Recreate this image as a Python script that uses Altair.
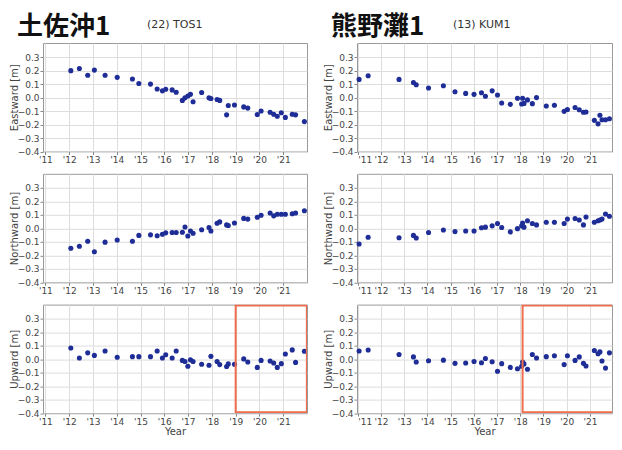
import altair as alt
import pandas as pd

# ---------------- data ----------------
tos_year = [2012.07, 2012.43, 2012.78, 2013.06, 2013.51, 2014.02, 2014.66, 2014.93, 2015.42, 2015.70,
            2015.92, 2016.06, 2016.33, 2016.50, 2016.76, 2016.87, 2016.99, 2017.10, 2017.21, 2017.57,
            2017.88, 2017.96, 2018.22, 2018.33, 2018.62, 2018.69, 2018.95, 2019.34, 2019.51, 2019.91,
            2020.07, 2020.45, 2020.60, 2020.75, 2020.92, 2021.09, 2021.38, 2021.52, 2021.89]
tos_east = [0.20, 0.216, 0.166, 0.204, 0.166, 0.15, 0.138, 0.105, 0.10, 0.064,
            0.05, 0.062, 0.057, 0.04, -0.021, -0.002, 0.012, 0.024, -0.031, 0.038,
            -0.002, -0.007, -0.014, -0.021, -0.128, -0.059, -0.055, -0.069, -0.078, -0.126,
            -0.10, -0.109, -0.124, -0.138, -0.112, -0.147, -0.124, -0.128, -0.178]
tos_north = [-0.147, -0.133, -0.095, -0.173, -0.102, -0.086, -0.095, -0.052, -0.048, -0.055,
             -0.043, -0.033, -0.031, -0.031, -0.029, 0.01, -0.057, -0.019, -0.036, -0.01,
             0.007, -0.019, 0.038, 0.048, 0.026, 0.021, 0.04, 0.074, 0.069, 0.083,
             0.097, 0.114, 0.093, 0.105, 0.105, 0.105, 0.109, 0.114, 0.131]
tos_up = [0.083, 0.009, 0.047, 0.028, 0.061, 0.014, 0.019, 0.019, 0.019, 0.061,
          0.009, 0.033, 0.009, 0.061, -0.009, -0.017, -0.052, -0.005, -0.017, -0.038,
          -0.045, 0.021, -0.017, -0.04, -0.054, -0.035, -0.038, 0.002, -0.021, -0.061,
          -0.009, -0.014, -0.028, -0.061, -0.033, 0.038, 0.069, -0.024, 0.059]

kum_year = [2011.06, 2011.45, 2012.78, 2013.40, 2013.52, 2014.05, 2014.69, 2015.19, 2015.65, 2016.01,
            2016.33, 2016.50, 2016.79, 2017.02, 2017.20, 2017.57, 2017.88, 2018.06, 2018.10, 2018.16,
            2018.31, 2018.52, 2018.70, 2019.12, 2019.47, 2019.89, 2020.03, 2020.36, 2020.54, 2020.72,
            2020.83, 2021.19, 2021.35, 2021.43, 2021.52, 2021.67, 2021.84]
kum_east = [0.135, 0.162, 0.135, 0.112, 0.095, 0.071, 0.088, 0.043, 0.031, 0.024,
            0.036, 0.01, 0.05, 0.019, -0.04, -0.05, -0.005, -0.048, -0.005, -0.043,
            -0.017, -0.045, 0.0, -0.062, -0.057, -0.102, -0.088, -0.074, -0.09, -0.109,
            -0.107, -0.169, -0.195, -0.131, -0.164, -0.164, -0.157]
kum_north = [-0.116, -0.066, -0.069, -0.052, -0.071, -0.031, -0.012, -0.024, -0.019, -0.019,
             0.005, 0.009, 0.019, 0.036, 0.007, -0.026, -0.002, 0.019, 0.04, 0.009,
             0.057, 0.036, 0.026, 0.045, 0.045, 0.036, 0.069, 0.073, 0.062, 0.026,
             0.085, 0.045, 0.057, 0.062, 0.069, 0.107, 0.09]
kum_up = [0.061, 0.068, 0.035, 0.017, -0.021, -0.012, -0.007, -0.031, -0.028, -0.017,
          -0.026, 0.005, -0.019, -0.09, -0.033, -0.061, -0.071, -0.052, -0.021, -0.035,
          -0.075, 0.035, 0.009, 0.019, 0.026, -0.04, 0.026, -0.009, 0.017, -0.031,
          -0.05, 0.064, 0.04, 0.054, -0.014, -0.066, 0.047]

x_ticks = list(range(2011, 2022))
y_ticks = [-0.4, -0.3, -0.2, -0.1, 0.0, 0.1, 0.2, 0.3]
y_domain = [-0.4, 0.405]
tos_xdomain = [2010.9, 2022.0]
kum_xdomain = [2010.97, 2021.95]
tos_box_x = [2019.0, 2021.995]
kum_box_x = [2018.1, 2022.6]
box_y = [-0.393, 0.398]

tos_title = "土佐沖1"
tos_sub = "(22) TOS1"
kum_title = "熊野灘1"
kum_sub = "(13) KUM1"

POINT = "#1f2d96"
BOX = "#ef6d4c"
LABEL = "#444444"
PANEL_H = 108.5


def panel(years, values, ytitle, xdomain, width, bottom=False, box=None,
          header=None, sub=None, sub_dx=100):
    df = pd.DataFrame({"year": years, "value": values})
    xscale = alt.Scale(domain=xdomain, nice=False, zero=False)
    yscale = alt.Scale(domain=y_domain, nice=False, zero=False)
    xaxis = alt.Axis(values=x_ticks,
                     labelExpr="\"'\" + slice(toString(datum.value), 2)",
                     labelOverlap=False, titlePadding=0,
                     title="Year" if bottom else None)
    yaxis = alt.Axis(values=y_ticks, format=".1f", title=ytitle, labelOverlap=False,
                     titleX=-29, titleBaseline="middle")
    layers = [alt.Chart(df).mark_circle(size=26, color=POINT, opacity=1).encode(
        x=alt.X("year:Q", scale=xscale, axis=xaxis),
        y=alt.Y("value:Q", scale=yscale, axis=yaxis))]
    if box is not None:
        bdf = pd.DataFrame({"year": [box[0]], "year2": [box[1]],
                            "value": [box_y[0]], "value2": [box_y[1]]})
        layers.append(
            alt.Chart(bdf).mark_rect(filled=False, stroke=BOX, strokeWidth=2, clip=True).encode(
                x=alt.X("year:Q", scale=xscale, axis=xaxis), x2="year2:Q",
                y=alt.Y("value:Q", scale=yscale, axis=yaxis), y2="value2:Q"))
    if header is not None:
        hdf = pd.DataFrame({"t": [header]})
        layers.append(
            alt.Chart(hdf).mark_text(align="left", baseline="top", fontSize=26,
                                     fontWeight="bold", font="Noto Sans CJK JP",
                                     color="#111111").encode(
                text="t:N", x=alt.value(-26), y=alt.value(-29)))
        sdf = pd.DataFrame({"t": [sub]})
        layers.append(
            alt.Chart(sdf).mark_text(align="left", baseline="alphabetic", fontSize=11,
                                     font="DejaVu Sans", color="#333333").encode(
                text="t:N", x=alt.value(sub_dx), y=alt.value(-15)))
    return alt.layer(*layers).properties(width=width, height=PANEL_H)


panels = [
    panel(tos_year, tos_east, "Eastward [m]", tos_xdomain, 264, header=tos_title, sub=tos_sub, sub_dx=104),
    panel(kum_year, kum_east, "Eastward [m]", kum_xdomain, 255, header=kum_title, sub=kum_sub, sub_dx=96),
    panel(tos_year, tos_north, "Northward [m]", tos_xdomain, 264),
    panel(kum_year, kum_north, "Northward [m]", kum_xdomain, 255),
    panel(tos_year, tos_up, "Upward [m]", tos_xdomain, 264, bottom=True, box=tos_box_x),
    panel(kum_year, kum_up, "Upward [m]", kum_xdomain, 255, bottom=True, box=kum_box_x),
]

chart = alt.concat(*panels, columns=2, spacing={"row": 21.8, "column": 50},
                   bounds="flush", align="each").properties(
    padding={"left": 0, "top": 5, "right": 0, "bottom": 0}
).configure_view(
    stroke="#999999", strokeWidth=1
).configure_axis(
    labelFont="DejaVu Sans", labelFontSize=9, labelColor=LABEL,
    titleFont="DejaVu Sans", titleFontSize=10, titleFontWeight="normal", titleColor=LABEL,
    tickColor="#888888", tickSize=3, labelPadding=1, titlePadding=3,
    domain=False, gridColor="#dddddd", gridWidth=1
)

chart.save("out.html", embed_options={"renderer": "svg", "actions": False})
